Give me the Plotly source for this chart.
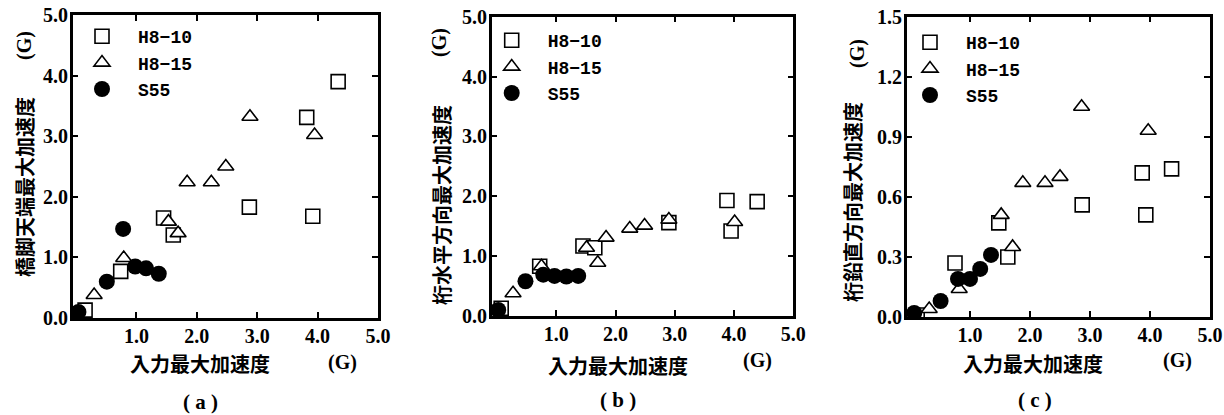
import plotly.graph_objects as go

# ---------------- data ----------------
# Panel (a): pier-top max acceleration
a_h10_x = [0.15, 0.74, 1.45, 1.61, 2.87, 3.82, 3.92, 4.34]
a_h10_y = [0.13, 0.77, 1.65, 1.37, 1.83, 3.31, 1.68, 3.90]
a_h15_x = [0.30, 0.79, 1.53, 1.69, 1.84, 2.24, 2.48, 2.88, 3.95]
a_h15_y = [0.38, 0.99, 1.59, 1.40, 2.24, 2.24, 2.50, 3.32, 3.02]
a_s55_x = [0.04, 0.51, 0.78, 0.98, 1.16, 1.37]
a_s55_y = [0.10, 0.60, 1.47, 0.85, 0.82, 0.73]

# Panel (b): girder horizontal max acceleration
b_h10_x = [0.07, 0.72, 1.45, 1.65, 2.90, 3.88, 3.95, 4.39]
b_h10_y = [0.13, 0.83, 1.17, 1.14, 1.56, 1.93, 1.42, 1.91]
b_h15_x = [0.27, 0.75, 1.51, 1.70, 1.84, 2.24, 2.49, 2.90, 4.01]
b_h15_y = [0.38, 0.83, 1.14, 0.89, 1.31, 1.46, 1.51, 1.61, 1.57]
b_s55_x = [0.02, 0.48, 0.78, 0.97, 1.17, 1.37]
b_s55_y = [0.10, 0.58, 0.69, 0.67, 0.66, 0.67]

# Panel (c): girder vertical max acceleration
c_h10_x = [0.12, 0.75, 1.48, 1.63, 2.87, 3.87, 3.93, 4.36]
c_h10_y = [0.01, 0.27, 0.47, 0.30, 0.56, 0.72, 0.51, 0.74]
c_h15_x = [0.32, 0.82, 1.52, 1.71, 1.88, 2.25, 2.50, 2.86, 3.97]
c_h15_y = [0.04, 0.14, 0.51, 0.35, 0.67, 0.67, 0.70, 1.05, 0.93]
c_s55_x = [0.07, 0.51, 0.80, 1.00, 1.17, 1.35]
c_s55_y = [0.02, 0.08, 0.19, 0.19, 0.24, 0.31]

series_names = ["H8\u221210", "H8\u221215", "S55"]
x_ticks = [1.0, 2.0, 3.0, 4.0, 5.0]
y_ticks_ab = [0.0, 1.0, 2.0, 3.0, 4.0, 5.0]
y_ticks_c = [0.0, 0.3, 0.6, 0.9, 1.2, 1.5]
y_titles = ["橋脚天端最大加速度", "桁水平方向最大加速度", "桁鉛直方向最大加速度"]
x_title = "入力最大加速度"
unit = "(G)"
captions = ["( a )", "( b )", "( c )"]

panels = [
    (a_h10_x, a_h10_y, a_h15_x, a_h15_y, a_s55_x, a_s55_y),
    (b_h10_x, b_h10_y, b_h15_x, b_h15_y, b_s55_x, b_s55_y),
    (c_h10_x, c_h10_y, c_h15_x, c_h15_y, c_s55_x, c_s55_y),
]

# ---------------- layout geometry (page pixel coords) ----------------
W, H = 1224, 415
def px(v):
    return v / W
def py(v):
    return 1 - v / H

x_domains = [(72.7, 378.0), (491.7, 793.3), (906.7, 1210.0)]
y_domains = [(15.0, 318.0), (16.7, 316.0), (16.7, 317.0)]
x_ranges = [[-0.055, 5.0], [-0.09, 5.0], [-0.055, 5.0]]
y_ranges = [[0, 5.0], [0, 5.0], [0, 1.5]]
y_tickvals = [y_ticks_ab, y_ticks_ab, y_ticks_c]

legend_pos = [(66, 18), (475.7, 22), (894, 24)]
ytitle_pos = [(25, 187), (442, 205), (853, 202)]
yunit_pos = [(25, 46), (440, 43), (858, 53)]
xtitle_pos = [(200, 363), (618, 365), (1033, 363)]
xunit_pos = [(342, 362), (757, 360), (1177, 360)]
caption_pos = [(200, 402), (618, 400), (1035, 400)]

TICK_FONT = dict(family="Liberation Serif", size=20, color="black", weight="bold")
CJK_FONT = dict(family="Noto Sans CJK JP", size=20, color="black", weight="bold")
LEG_FONT = dict(family="Liberation Mono", size=18, color="black", weight="bold")
UNIT_FONT = dict(family="Liberation Serif", size=20, color="black", weight="bold")
CAP_FONT = dict(family="Liberation Serif", size=21, color="black", weight="bold")

fig = go.Figure()

for i, (hx, hy, tx, ty, sx, sy) in enumerate(panels):
    sfx = "" if i == 0 else str(i + 1)
    leg = "legend" + sfx
    fig.add_trace(go.Scatter(
        x=hx, y=hy, mode="markers", name=series_names[0],
        xaxis="x" + sfx, yaxis="y" + sfx, legend=leg,
        marker=dict(symbol="square", size=14, color="white",
                    line=dict(color="black", width=1.6)),
    ))
    fig.add_trace(go.Scatter(
        x=tx, y=ty, mode="markers", name=series_names[1],
        xaxis="x" + sfx, yaxis="y" + sfx, legend=leg,
        marker=dict(symbol="triangle-up", size=14, color="white",
                    line=dict(color="black", width=1.6)),
    ))
    fig.add_trace(go.Scatter(
        x=sx, y=sy, mode="markers", name=series_names[2],
        xaxis="x" + sfx, yaxis="y" + sfx, legend=leg,
        marker=dict(symbol="circle", size=16, color="black",
                    line=dict(color="black", width=0)),
    ))

layout = dict(
    width=W, height=H,
    margin=dict(l=0, r=0, t=0, b=0, autoexpand=False),
    paper_bgcolor="white", plot_bgcolor="white",
    showlegend=True,
)

for i in range(3):
    sfx = "" if i == 0 else str(i + 1)
    xd = x_domains[i]
    yd = y_domains[i]
    layout["xaxis" + sfx] = dict(
        domain=[px(xd[0]), px(xd[1])], range=x_ranges[i], automargin=False,
        anchor="y" + sfx, tickvals=x_ticks, ticktext=[f"{v:.1f}" for v in x_ticks],
        ticks="inside", ticklen=6, tickwidth=2, tickcolor="black",
        showline=True, linewidth=2.5, linecolor="black", mirror="ticks",
        showgrid=False, zeroline=False, tickfont=TICK_FONT, ticklabelstandoff=-2,
        ticklabeloverflow="allow",
    )
    layout["yaxis" + sfx] = dict(
        domain=[py(yd[1]), py(yd[0])], range=y_ranges[i], automargin=False,
        anchor="x" + sfx, tickvals=y_tickvals[i],
        ticktext=[f"{v:.1f}" for v in y_tickvals[i]],
        ticks="inside", ticklen=6, tickwidth=2, tickcolor="black",
        showline=True, linewidth=2.5, linecolor="black", mirror="ticks",
        showgrid=False, zeroline=False, tickfont=TICK_FONT, ticklabelstandoff=-2,
        ticklabeloverflow="allow",
    )
    lp = legend_pos[i]
    layout["legend" + sfx] = dict(
        x=px(lp[0]), y=py(lp[1]), xanchor="left", yanchor="top",
        bgcolor="rgba(0,0,0,0)", borderwidth=0, font=LEG_FONT,
        itemwidth=62, tracegroupgap=0,
    )

fig.update_layout(**layout)

ann = []
for i in range(3):
    ann.append(dict(text=y_titles[i], x=px(ytitle_pos[i][0]), y=py(ytitle_pos[i][1]),
                    xref="paper", yref="paper", showarrow=False, textangle=-90,
                    font=CJK_FONT, xanchor="center", yanchor="middle"))
    ann.append(dict(text=unit, x=px(yunit_pos[i][0]), y=py(yunit_pos[i][1]),
                    xref="paper", yref="paper", showarrow=False, textangle=-90,
                    font=UNIT_FONT, xanchor="center", yanchor="middle"))
    ann.append(dict(text=x_title, x=px(xtitle_pos[i][0]), y=py(xtitle_pos[i][1]),
                    xref="paper", yref="paper", showarrow=False,
                    font=CJK_FONT, xanchor="center", yanchor="middle"))
    ann.append(dict(text=unit, x=px(xunit_pos[i][0]), y=py(xunit_pos[i][1]),
                    xref="paper", yref="paper", showarrow=False,
                    font=UNIT_FONT, xanchor="center", yanchor="middle"))
    ann.append(dict(text=captions[i], x=px(caption_pos[i][0]), y=py(caption_pos[i][1]),
                    xref="paper", yref="paper", showarrow=False,
                    font=CAP_FONT, xanchor="center", yanchor="middle", borderpad=0))
fig.update_layout(annotations=ann)

# remove the default 8px body margin so the figure fills the window exactly
fig.write_html("out.html",
               config={"displayModeBar": False},
               post_script="document.body.style.margin='0';document.body.style.overflow='hidden';")
